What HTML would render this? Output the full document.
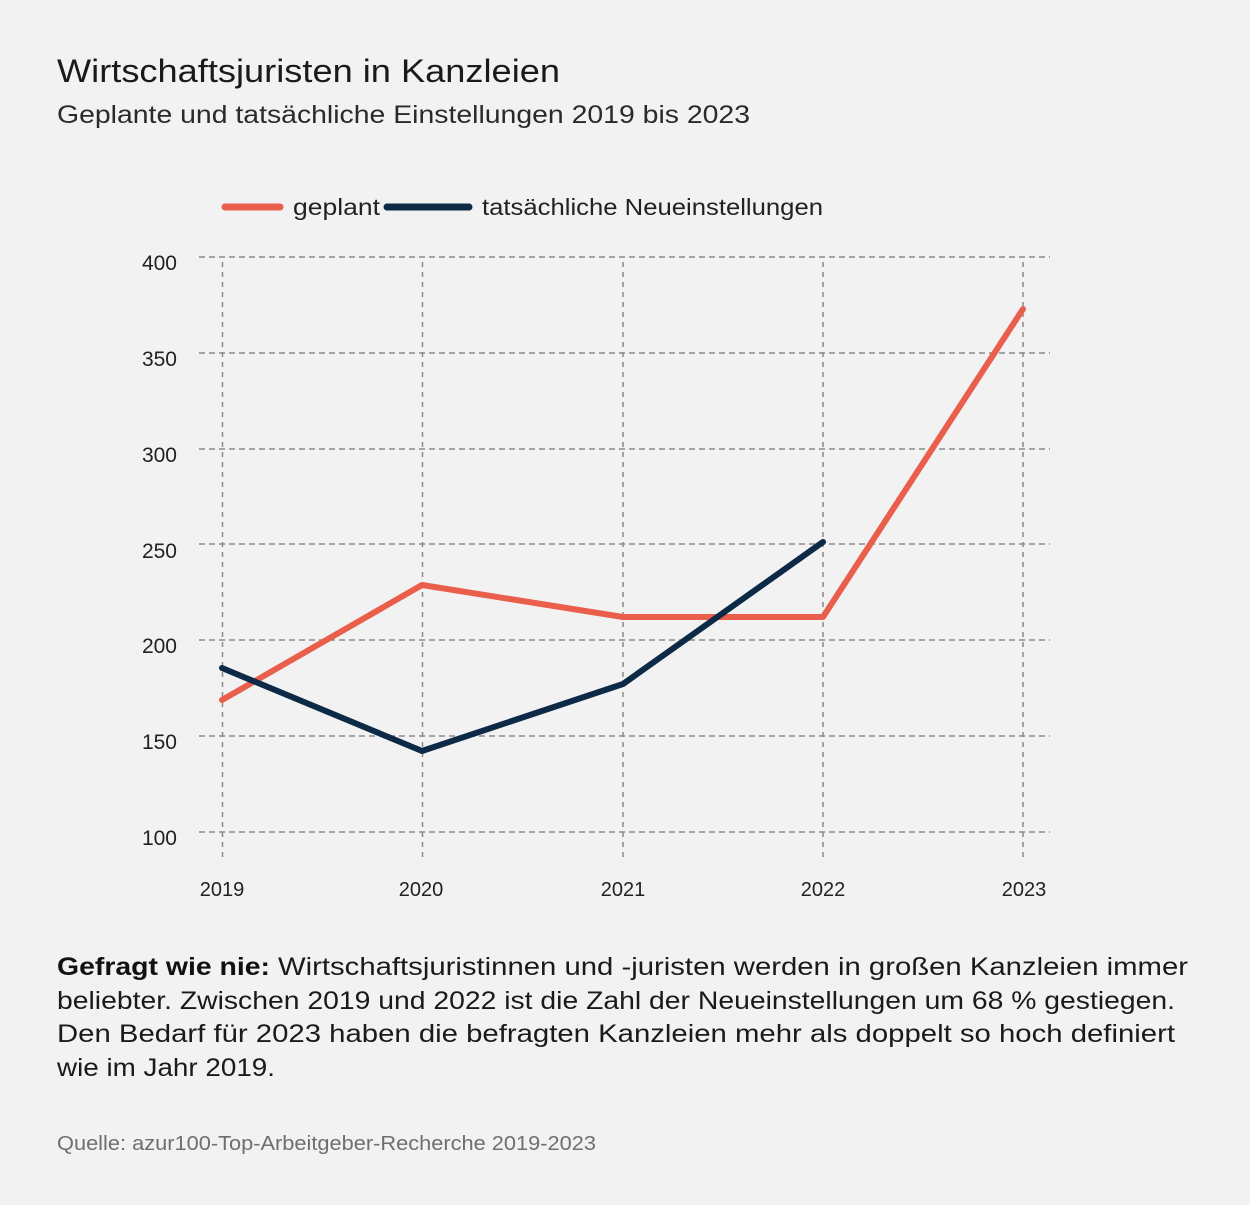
<!DOCTYPE html>
<html>
<head>
<meta charset="utf-8">
<style>
  html,body{margin:0;padding:0;background:#f2f2f2;}
  svg{display:block;}
  text{font-family:"Liberation Sans","DejaVu Sans",sans-serif;}
</style>
</head>
<body>
<svg width="1250" height="1205" viewBox="0 0 1250 1205" xmlns="http://www.w3.org/2000/svg">
  <rect x="0" y="0" width="1250" height="1205" fill="#f2f2f2"/>

  <!-- Title -->
  <text x="57" y="82" font-size="32" fill="#1a1a1a" textLength="503" lengthAdjust="spacingAndGlyphs">Wirtschaftsjuristen in Kanzleien</text>
  <text x="57" y="123" font-size="25" fill="#2a2a2a" textLength="693" lengthAdjust="spacingAndGlyphs">Geplante und tatsächliche Einstellungen 2019 bis 2023</text>

  <!-- Legend -->
  <line x1="225" y1="207" x2="280" y2="207" stroke="#e95f4b" stroke-width="7" stroke-linecap="round"/>
  <text x="293" y="215" font-size="23" fill="#222" textLength="87" lengthAdjust="spacingAndGlyphs">geplant</text>
  <line x1="387" y1="207" x2="469" y2="207" stroke="#0c2946" stroke-width="7" stroke-linecap="round"/>
  <text x="482" y="215" font-size="23" fill="#222" textLength="341" lengthAdjust="spacingAndGlyphs">tatsächliche Neueinstellungen</text>

  <!-- Grid horizontal -->
  <g stroke="#8a8a8a" stroke-width="1.5" stroke-dasharray="6,4" fill="none">
    <line x1="199" y1="257" x2="1050" y2="257"/>
    <line x1="199" y1="353" x2="1050" y2="353"/>
    <line x1="199" y1="449" x2="1050" y2="449"/>
    <line x1="199" y1="544" x2="1050" y2="544"/>
    <line x1="199" y1="640" x2="1050" y2="640"/>
    <line x1="199" y1="736" x2="1050" y2="736"/>
    <line x1="199" y1="832" x2="1050" y2="832"/>
  </g>
  <!-- Grid vertical -->
  <g stroke="#8a8a8a" stroke-width="1.5" stroke-dasharray="5,5" fill="none">
    <line x1="222.5" y1="262" x2="222.5" y2="857"/>
    <line x1="422.5" y1="262" x2="422.5" y2="857"/>
    <line x1="623" y1="262" x2="623" y2="857"/>
    <line x1="823" y1="262" x2="823" y2="857"/>
    <line x1="1023" y1="262" x2="1023" y2="857"/>
  </g>

  <!-- Y labels -->
  <g font-size="21" fill="#222" text-anchor="end">
    <text x="177" y="270">400</text>
    <text x="177" y="366">350</text>
    <text x="177" y="462">300</text>
    <text x="177" y="558">250</text>
    <text x="177" y="653">200</text>
    <text x="177" y="749">150</text>
    <text x="177" y="845">100</text>
  </g>
  <!-- X labels -->
  <g font-size="20" fill="#222" text-anchor="middle">
    <text x="222" y="896">2019</text>
    <text x="421" y="896">2020</text>
    <text x="623" y="896">2021</text>
    <text x="823" y="896">2022</text>
    <text x="1024" y="896">2023</text>
  </g>

  <!-- Series -->
  <polyline points="222,700 422,585 623,617 823,617 1023,309" fill="none" stroke="#e95f4b" stroke-width="6" stroke-linejoin="round" stroke-linecap="round"/>
  <polyline points="222,668 422,751 623,684 823,542" fill="none" stroke="#0c2946" stroke-width="6" stroke-linejoin="round" stroke-linecap="round"/>

  <!-- Paragraph -->
  <text x="57" y="975" font-size="25" font-weight="bold" fill="#111" textLength="213" lengthAdjust="spacingAndGlyphs">Gefragt wie nie:</text>
  <text x="278" y="975" font-size="25" fill="#1a1a1a" textLength="910" lengthAdjust="spacingAndGlyphs">Wirtschaftsjuristinnen und -juristen werden in großen Kanzleien immer</text>
  <text x="57" y="1009" font-size="25" fill="#1a1a1a" textLength="1118" lengthAdjust="spacingAndGlyphs">beliebter. Zwischen 2019 und 2022 ist die Zahl der Neueinstellungen um 68 % gestiegen.</text>
  <text x="57" y="1042" font-size="25" fill="#1a1a1a" textLength="1118" lengthAdjust="spacingAndGlyphs">Den Bedarf für 2023 haben die befragten Kanzleien mehr als doppelt so hoch definiert</text>
  <text x="57" y="1076" font-size="25" fill="#1a1a1a" textLength="218" lengthAdjust="spacingAndGlyphs">wie im Jahr 2019.</text>

  <!-- Source -->
  <text x="57" y="1150" font-size="20" fill="#6f6f6f" textLength="539" lengthAdjust="spacingAndGlyphs">Quelle: azur100-Top-Arbeitgeber-Recherche 2019-2023</text>
</svg>
</body>
</html>
